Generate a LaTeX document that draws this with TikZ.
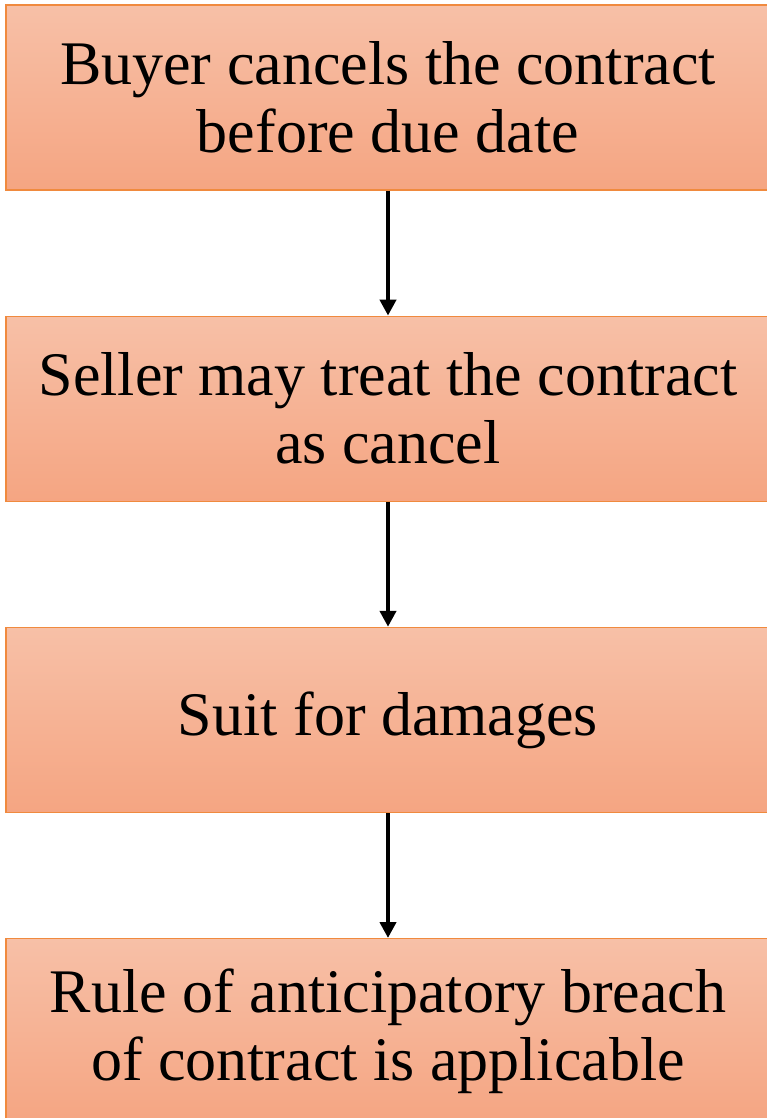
\documentclass[tikz,border=0pt]{standalone}
\usepackage{fontspec}
\setmainfont{Liberation Serif}
\usetikzlibrary{positioning, arrows.meta}

\definecolor{boxtop}{HTML}{F7C0A7}
\definecolor{boxbottom}{HTML}{F5A582}
\definecolor{boxline}{HTML}{F08A3E}

\begin{document}
\begin{tikzpicture}[x=1pt, y=1pt]
        \tikzset{stage/.style={draw=boxline, line width=1.2pt, top color=boxtop, bottom color=boxbottom,
                minimum width=764pt, minimum height=185pt, inner sep=0pt, align=center,
                font=\fontsize{62}{68}\selectfont}}
        \tikzset{flow/.style={-{Triangle[length=16pt, width=16pt]}, line width=4.5pt}}
        \useasboundingbox (0,0) rectangle (767,-1118);
        \node[stage] (cancel) at (388,-97.5) {Buyer cancels the contract\\before due date};
        \node[stage, below=125pt of cancel] (treat) {Seller may treat the contract\\as cancel};
        \node[stage, below=125pt of treat] (suit) {Suit for damages};
        \node[stage, below=125pt of suit] (rule) {Rule of anticipatory breach\\of contract is applicable};
        \draw[flow] (cancel) -- (treat);
        \draw[flow] (treat) -- (suit);
        \draw[flow] (suit) -- (rule);
    \end{tikzpicture}
\end{document}
